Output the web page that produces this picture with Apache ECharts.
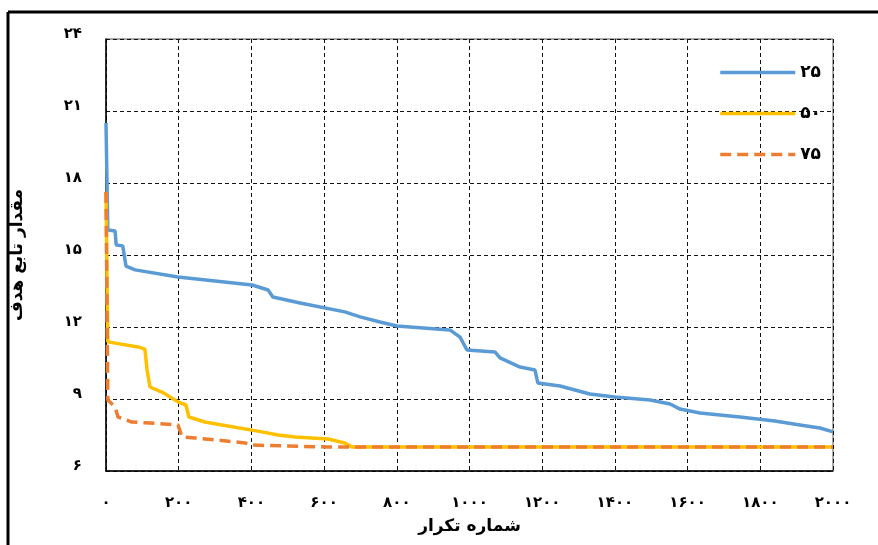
<!DOCTYPE html>
<html>
<head>
<meta charset="utf-8">
<script src="https://cdn.jsdelivr.net/npm/echarts@6/dist/echarts.min.js"></script>
<style>
  html, body { margin: 0; padding: 0; background: #fff; }
  #main { width: 878px; height: 545px; }
</style>
</head>
<body>
<div id="main"></div>
<script>
// series data (iteration, objective value)
var iter25 = [0, 5, 25, 28, 46, 55, 80, 198, 402, 446, 459, 534, 657, 699, 754, 800, 946, 974, 993, 1070, 1084, 1139, 1180, 1188, 1249, 1331, 1400, 1497, 1552, 1579, 1634, 1744, 1840, 1909, 1964, 2000];
var val25 = [20.5, 16.04, 16.0, 15.42, 15.38, 14.54, 14.38, 14.08, 13.75, 13.54, 13.25, 13.0, 12.63, 12.42, 12.21, 12.04, 11.88, 11.58, 11.04, 10.96, 10.71, 10.33, 10.21, 9.67, 9.54, 9.21, 9.08, 8.96, 8.79, 8.58, 8.42, 8.25, 8.08, 7.92, 7.79, 7.63];

var iter50 = [0, 5, 88, 107, 113, 121, 154, 198, 220, 228, 272, 319, 429, 473, 520, 611, 657, 677, 2000];
var val50 = [17.63, 11.38, 11.17, 11.08, 10.21, 9.5, 9.29, 8.88, 8.75, 8.25, 8.04, 7.92, 7.63, 7.5, 7.42, 7.33, 7.17, 7.0, 7.0];

var iter75 = [0, 5, 25, 33, 71, 121, 198, 209, 245, 382, 402, 611, 2000];
var val75 = [17.63, 8.96, 8.67, 8.25, 8.04, 8.0, 7.92, 7.42, 7.38, 7.17, 7.08, 7.0, 7.0];

var seriesNames = ['۲۵', '۵۰', '۷۵'];
var persianDigits = '۰۱۲۳۴۵۶۷۸۹';
var xTitle = 'شماره تکرار';
var yTitle = 'مقدار تابع هدف';

function fa(n) {
  return String(n).replace(/[0-9]/g, function (d) { return persianDigits[+d]; });
}
function zip(xs, ys) {
  return xs.map(function (x, i) { return [x, ys[i]]; });
}

var font = 'DejaVu Sans';
var myChart = echarts.init(document.getElementById('main'), null, { renderer: 'canvas' });

var option = {
  backgroundColor: '#fff',
  animation: false,
  grid: {
    left: 106, right: 45, top: 39, bottom: 74,
    show: true, borderColor: '#555', borderWidth: 1
  },
  legend: {
    orient: 'vertical',
    right: 52,
    top: 59,
    itemWidth: 75,
    itemHeight: 14,
    itemGap: 24,
    itemStyle: { opacity: 0 },
    lineStyle: { width: 3.5 },
    textStyle: { fontFamily: font, fontSize: 17, fontWeight: 'bold', color: '#000' },
    data: seriesNames
  },
  xAxis: {
    type: 'value',
    min: 0, max: 2000, interval: 200,
    name: xTitle,
    nameLocation: 'middle',
    nameGap: 47,
    nameTextStyle: { fontFamily: font, fontSize: 17, fontWeight: 'bold', color: '#000' },
    axisLine: { lineStyle: { color: '#000', width: 1.5 } },
    axisTick: { show: false },
    axisLabel: {
      margin: 25,
      fontFamily: font, fontSize: 15, fontWeight: 'bold', color: '#000',
      formatter: function (v) { return fa(v); }
    },
    splitLine: { show: true, lineStyle: { color: '#111', type: [4, 3], width: 1 } }
  },
  yAxis: {
    type: 'value',
    min: 6, max: 24, interval: 3,
    name: yTitle,
    nameLocation: 'middle',
    nameGap: 80,
    nameTextStyle: { fontFamily: font, fontSize: 17, fontWeight: 'bold', color: '#000' },
    axisLine: { show: true, lineStyle: { color: '#000', width: 1.5 } },
    axisTick: { show: false },
    axisLabel: {
      margin: 24,
      verticalAlign: 'bottom',
      lineHeight: 10,
      fontFamily: font, fontSize: 15, fontWeight: 'bold', color: '#000',
      formatter: function (v) { return fa(v); }
    },
    splitLine: { show: true, lineStyle: { color: '#111', type: [4, 3], width: 1 } }
  },
  graphic: [
    { type: 'line', shape: { x1: 8, y1: 12, x2: 878, y2: 12 }, style: { stroke: '#000', lineWidth: 3 } },
    { type: 'line', shape: { x1: 8, y1: 12, x2: 8, y2: 545 }, style: { stroke: '#000', lineWidth: 3 } }
  ],
  series: [
    {
      name: seriesNames[0], type: 'line', symbol: 'none',
      data: zip(iter25, val25),
      lineStyle: { color: '#5B9BD5', width: 3.5 },
      itemStyle: { color: '#5B9BD5' }
    },
    {
      name: seriesNames[1], type: 'line', symbol: 'none',
      data: zip(iter50, val50),
      lineStyle: { color: '#FFC000', width: 3.5 },
      itemStyle: { color: '#FFC000' }
    },
    {
      name: seriesNames[2], type: 'line', symbol: 'none',
      data: zip(iter75, val75),
      lineStyle: { color: '#ED7D31', width: 3.5, type: [11, 6] },
      itemStyle: { color: '#ED7D31' }
    }
  ]
};

myChart.setOption(option);
window.addEventListener('resize', myChart.resize);
</script>
</body>
</html>
